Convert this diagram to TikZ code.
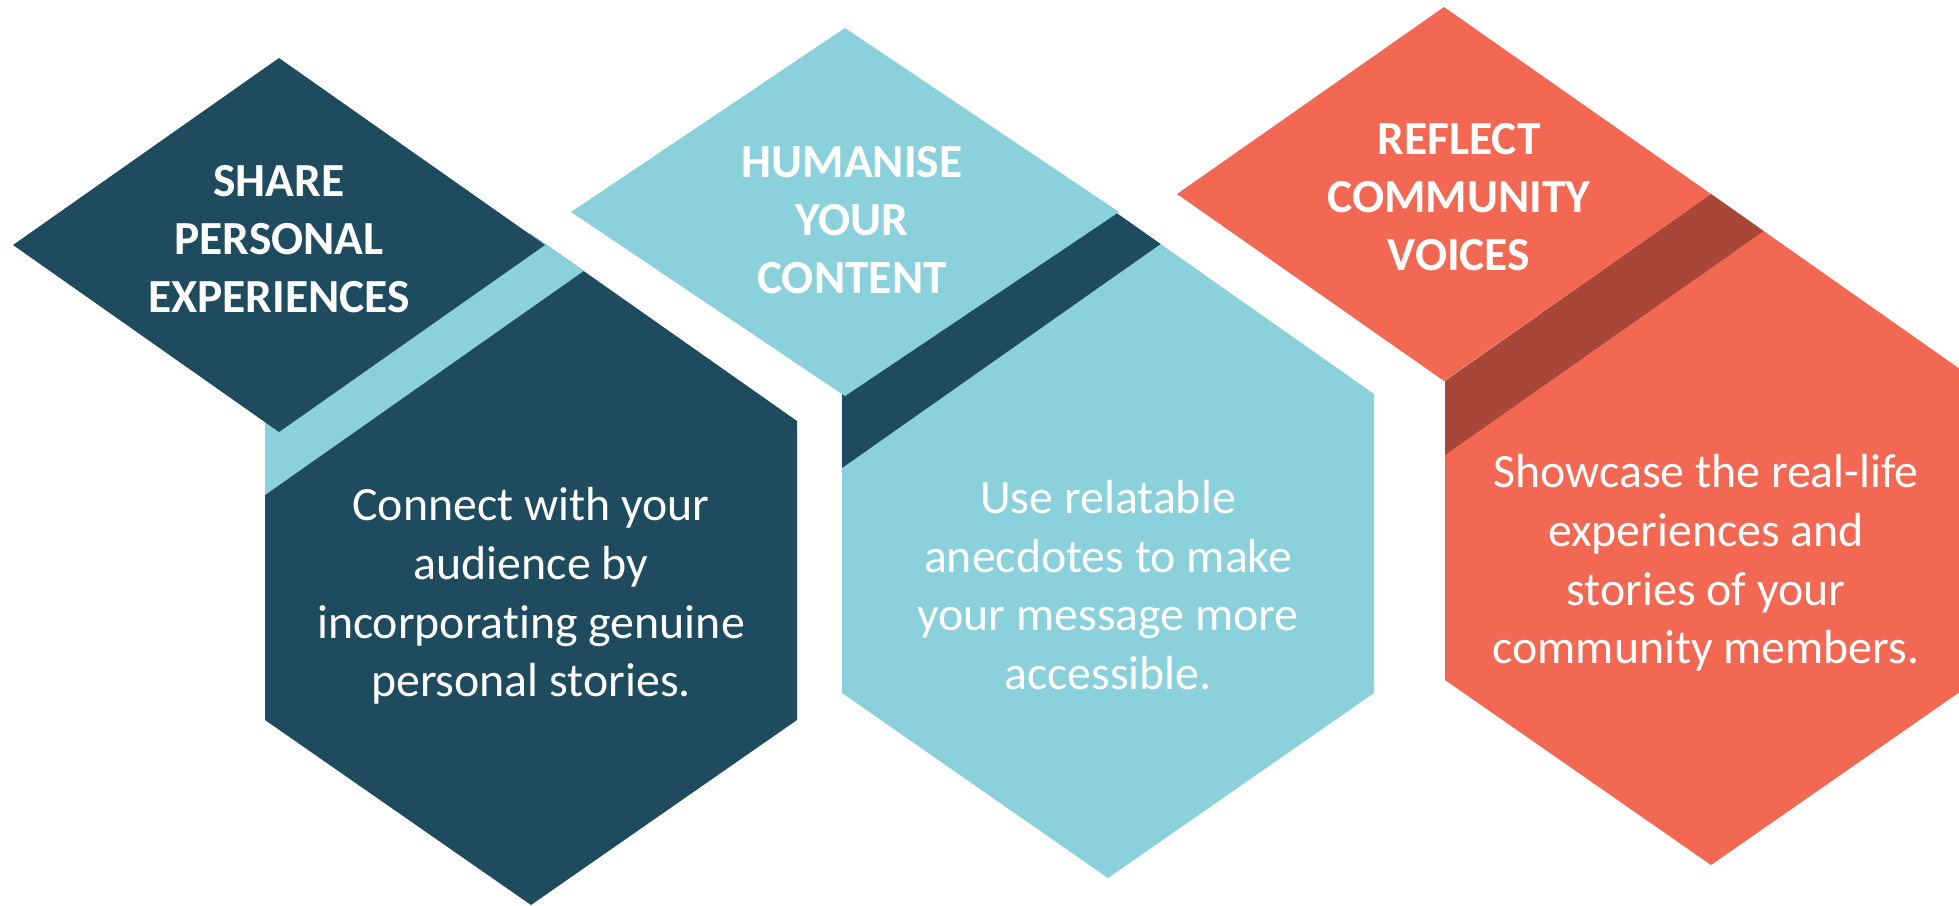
\documentclass[tikz,border=0pt]{standalone}
\usepackage{fontspec}
\setmainfont{Carlito}[Ligatures=NoCommon]
\usetikzlibrary{positioning}

\definecolor{deepteal}{HTML}{1F4B5F}
\definecolor{paleteal}{HTML}{8AD1DB}
\definecolor{coral}{HTML}{F26852}
\definecolor{rust}{HTML}{A84637}

\tikzset{
  heading/.style={text=white, align=center, inner sep=0pt,
    font=\fontsize{13.5}{16.4}\selectfont\bfseries},
  blurb/.style={text=white, align=center, inner sep=0pt,
    font=\fontsize{13.6}{16.65}\selectfont},
}

\begin{document}
\begin{tikzpicture}[x=0.01cm, y=-0.01cm]
    \useasboundingbox (0,0) rectangle (1959,905);
    \clip (0,0) rectangle (1959,905);

    \def\hw{266}
    \def\hh{187}
    \def\side{299}
    \def\drop{185}
    \def\band{74}

    % diamond centre and half sizes, hexagon centre x / upper corner y, colours
    \foreach \cx/\cy/\dw/\dh/\hx/\hy/\main/\strip in {
        279/245/266/187/531/421/deepteal/paleteal,
        845/212/274/184/1108/394/paleteal/deepteal,
        1444/194/267/187/1711/381/coral/rust}{
      \fill[\main] (\hx,\hy-\hh) -- (\hx+\hw,\hy) -- (\hx+\hw,\hy+\side)
        -- (\hx,\hy+\side+\drop) -- (\hx-\hw,\hy+\side) -- (\hx-\hw,\hy) -- cycle;
      \begin{scope}
        \clip (\hx,\hy-\hh) -- (\hx+\hw,\hy) -- (\hx+\hw,\hy+\side)
          -- (\hx,\hy+\side+\drop) -- (\hx-\hw,\hy+\side) -- (\hx-\hw,\hy) -- cycle;
        \fill[\strip] (\hx-\hw,\hy+\band) -- (\hx+\hw,\hy+\band-2*\hh)
          -- (\hx+\hw,0) -- (\hx-\hw,0) -- cycle;
      \end{scope}
      \fill[\main] (\cx,\cy-\dh) -- (\cx+\dw,\cy) -- (\cx,\cy+\dh) -- (\cx-\dw,\cy) -- cycle;
    }

    \node[heading] (share) at (279,239) {SHARE\\PERSONAL\\EXPERIENCES};
    \node[heading] (humanise) at (852,220) {HUMANISE\\YOUR\\CONTENT};
    \node[heading] (reflect) at (1459,197) {REFLECT\\COMMUNITY\\VOICES};

    \node[blurb] (connect) at (531,596)
      {Connect with your\\audience by\\incorporating genuine\\personal stories.};
    \node[blurb] (relatable) at (1108,585)
      {Use relatable\\anecdotes to make\\your message more\\accessible.};
    \node[blurb] (showcase) at (1706,563)
      {Showcase the real-life\\experiences and\\stories of your\\community members.};
\end{tikzpicture}
\end{document}
